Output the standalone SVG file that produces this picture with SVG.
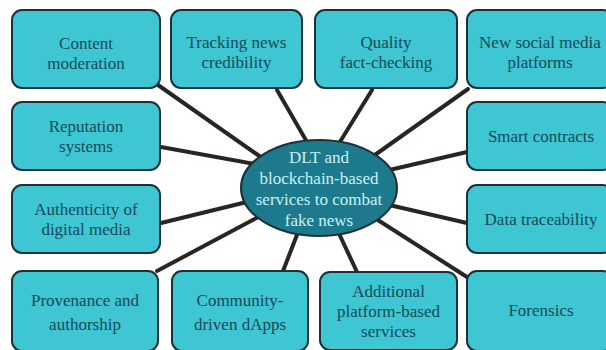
<svg xmlns="http://www.w3.org/2000/svg" width="606" height="350" viewBox="0 0 606 350">
<style>
.box{fill:#3ec6d3;stroke:#1c3038;stroke-width:2}
.t{font-size:17px;fill:#174a58;text-anchor:middle}
.c{font-size:17px;fill:#c9f1f5;text-anchor:middle}
.ln{stroke:#2a2522;stroke-width:4;stroke-linecap:round}
</style>
<rect width="606" height="350" fill="#ffffff"/>
<g id="connectors" class="ln">
<line x1="158" y1="85" x2="265" y2="160"/>
<line x1="277" y1="90" x2="307" y2="142"/>
<line x1="372" y1="90" x2="338" y2="145"/>
<line x1="468" y1="89" x2="372" y2="157"/>
<line x1="161" y1="147" x2="260" y2="165"/>
<line x1="467" y1="152" x2="385" y2="171"/>
<line x1="161" y1="223" x2="255" y2="200"/>
<line x1="467" y1="223" x2="385" y2="204"/>
<line x1="157" y1="271" x2="262" y2="215"/>
<line x1="283" y1="271" x2="302" y2="222"/>
<line x1="357" y1="272" x2="335" y2="225"/>
<line x1="467" y1="277" x2="370" y2="215"/>
</g>
<g font-family="Liberation Serif, DejaVu Serif, serif">
<g id="center">
<ellipse cx="319" cy="188" rx="78" ry="48" fill="#1d7a8d" stroke="#1c3038" stroke-width="2"/>
<text class="c" x="319" y="163">DLT and</text>
<text class="c" x="319" y="184">blockchain-based</text>
<text class="c" x="319" y="205">services to combat</text>
<text class="c" x="319" y="226">fake news</text>
</g>
<g id="n1"><rect class="box" x="12" y="10" width="148" height="78" rx="10"/>
<text class="t" x="86" y="49">Content</text><text class="t" x="86" y="69">moderation</text></g>
<g id="n2"><rect class="box" x="171" y="10" width="131" height="78" rx="10"/>
<text class="t" x="236.5" y="48">Tracking news</text><text class="t" x="236.5" y="68">credibility</text></g>
<g id="n3"><rect class="box" x="315" y="10" width="142" height="78" rx="10"/>
<text class="t" x="386" y="48">Quality</text><text class="t" x="386" y="68">fact-checking</text></g>
<g id="n4"><rect class="box" x="467" y="10" width="146" height="78" rx="10"/>
<text class="t" x="540" y="48">New social media</text><text class="t" x="540" y="68">platforms</text></g>
<g id="n5"><rect class="box" x="12" y="102" width="148" height="68" rx="10"/>
<text class="t" x="86" y="132">Reputation</text><text class="t" x="86" y="152">systems</text></g>
<g id="n6"><rect class="box" x="467" y="102" width="146" height="68" rx="10"/>
<text class="t" x="541" y="142">Smart contracts</text></g>
<g id="n7"><rect class="box" x="12" y="185" width="148" height="68" rx="10"/>
<text class="t" x="86" y="215">Authenticity of</text><text class="t" x="86" y="235">digital media</text></g>
<g id="n8"><rect class="box" x="467" y="185" width="146" height="68" rx="10"/>
<text class="t" x="541" y="225">Data traceability</text></g>
<g id="n9"><rect class="box" x="12" y="271" width="146" height="80" rx="10"/>
<text class="t" x="85" y="306">Provenance and</text><text class="t" x="85" y="330">authorship</text></g>
<g id="n10"><rect class="box" x="172" y="271" width="136" height="80" rx="10"/>
<text class="t" x="240" y="306">Community-</text><text class="t" x="240" y="330">driven dApps</text></g>
<g id="n11"><rect class="box" x="320" y="272" width="137" height="78" rx="10"/>
<text class="t" x="388.5" y="297">Additional</text><text class="t" x="388.5" y="317">platform-based</text><text class="t" x="388.5" y="337">services</text></g>
<g id="n12"><rect class="box" x="467" y="271" width="146" height="80" rx="10"/>
<text class="t" x="541" y="316">Forensics</text></g>
</g>
</svg>
